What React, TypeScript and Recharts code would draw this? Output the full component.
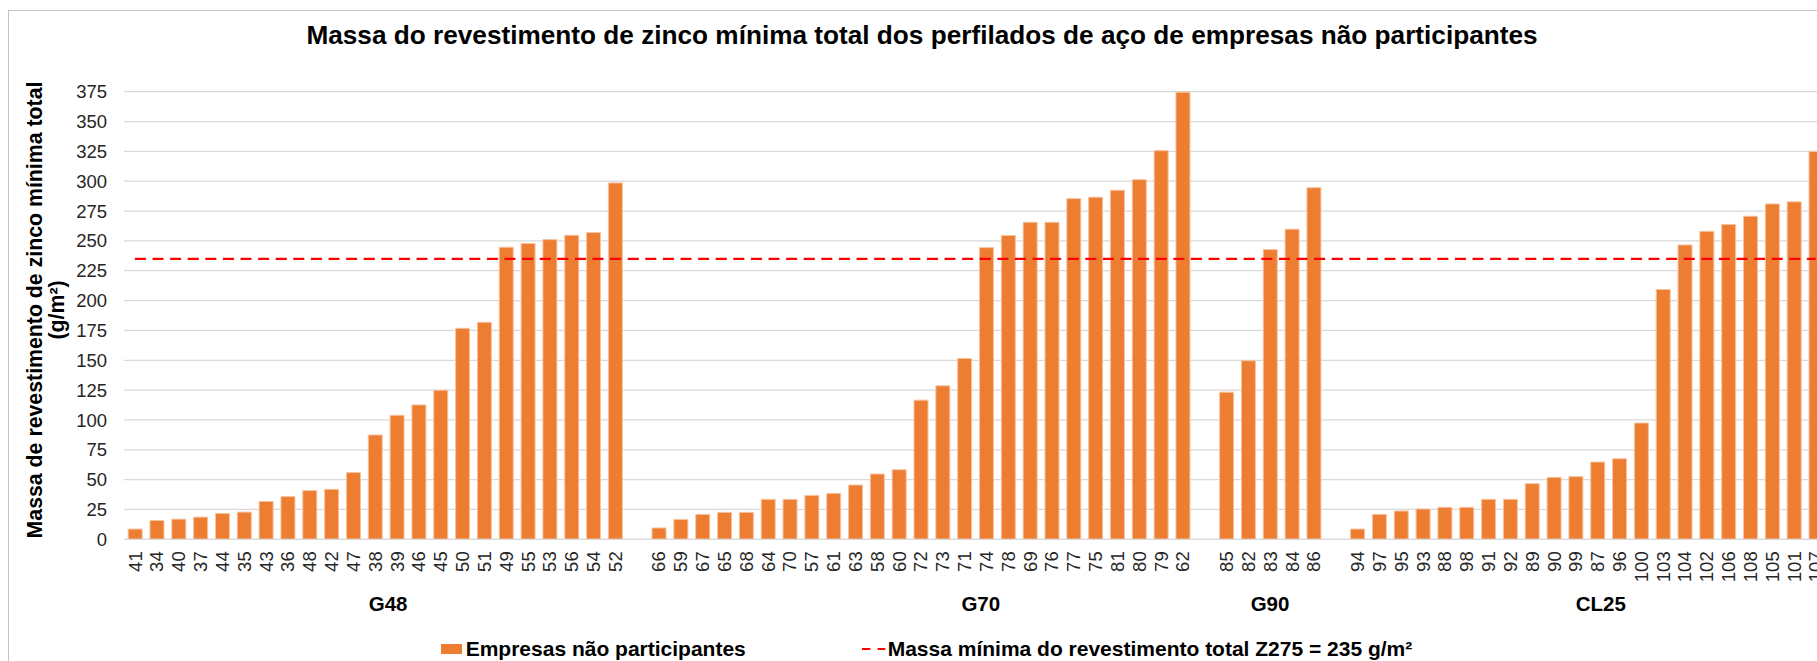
import React from 'react';
import {
  Bar,
  CartesianGrid,
  ComposedChart,
  Legend,
  Line,
  XAxis,
  YAxis,
} from 'recharts';

// company codes (x tick labels) and zinc coating mass per group, g/m²
const g48Labels = ['41', '34', '40', '37', '44', '35', '43', '36', '48', '42', '47', '38', '39', '46', '45', '50', '51', '49', '55', '53', '56', '54', '52'];
const g48Values = [8.6, 15.8, 16.9, 18.6, 21.7, 22.8, 31.7, 35.8, 40.8, 41.9, 55.9, 87.4, 103.9, 112.6, 124.9, 176.8, 181.8, 244.7, 247.8, 251.1, 254.7, 257, 298.6];

const g70Labels = ['66', '59', '67', '65', '68', '64', '70', '57', '61', '63', '58', '60', '72', '73', '71', '74', '78', '69', '76', '77', '75', '81', '80', '79', '62'];
const g70Values = [9.5, 16.7, 20.9, 22.6, 22.6, 33.5, 33.5, 36.8, 38.5, 45.5, 54.7, 58.3, 116.6, 128.6, 151.5, 244.4, 254.5, 265.6, 265.6, 285.4, 286.6, 292.4, 301.3, 325.6, 374.6];

const g90Labels = ['85', '82', '83', '84', '86'];
const g90Values = [123.3, 149.6, 242.7, 259.8, 294.6];

const cl25Labels = ['94', '97', '95', '93', '88', '98', '91', '92', '89', '90', '99', '87', '96', '100', '103', '104', '102', '106', '108', '105', '101', '107'];
const cl25Values = [8.6, 20.9, 23.7, 25.4, 26.8, 26.8, 33.5, 33.5, 46.6, 51.9, 52.5, 64.7, 67.5, 97.4, 209.3, 246.6, 258, 263.7, 270.7, 281, 282.7, 325];

const groupNames = ['G48', 'G70', 'G90', 'CL25'];
const limitValue = 235;
const yTicks = [0, 25, 50, 75, 100, 125, 150, 175, 200, 225, 250, 275, 300, 325, 350, 375];

const barName = 'Empresas não participantes';
const lineName = 'Massa mínima do revestimento total Z275 = 235 g/m²';

type Row = { key: string; label: string; value: number | null; limit: number };

const groups = [
  { labels: g48Labels, values: g48Values },
  { labels: g70Labels, values: g70Values },
  { labels: g90Labels, values: g90Values },
  { labels: cl25Labels, values: cl25Values },
];

// one empty category between groups, like the Excel source
const data: Row[] = [];
groups.forEach((g, gi) => {
  if (gi > 0) data.push({ key: `gap${gi}`, label: '', value: null, limit: limitValue });
  g.labels.forEach((l, i) => data.push({ key: l, label: l, value: g.values[i], limit: limitValue }));
});
const rowByKey: Record<string, Row> = {};
data.forEach((r) => (rowByKey[r.key] = r));

const FONT = '"Liberation Sans", Arial, sans-serif';
const CHART_W = 1840;
const CHART_H = 660;
const Y_AXIS_W = 116;
const MARGIN = { top: 81.7, right: 21.3, bottom: 10, left: 0 };
const LEGEND_H = 30;
const X_AXIS_H = CHART_H - MARGIN.bottom - LEGEND_H - 529.3;
const SLOT = (CHART_W - Y_AXIS_W - MARGIN.right) / data.length;

// where the group captions sit, in category slots from the left
const groupLabelAt: Record<string, number> = { G48: 11.6, G70: 38.75, G90: 52, CL25: 67.15 };

// the source picture is a crop of a wider chart: let the root span the whole window
const pageCss = 'body{margin:0}#root{width:1817px;padding:10px 0 0 8px;box-sizing:border-box}';

const CategoryTick = (props: any) => {
  const { x, y, payload } = props;
  const row = rowByKey[payload.value];
  const idx = data.indexOf(row);
  const caption = groupNames.find((g) => Math.floor(groupLabelAt[g]) === idx);
  return (
    <g>
      <text
        transform={`translate(${x},${y}) rotate(-90)`}
        textAnchor="end"
        dy="0.36em"
        fontSize={18.5}
        fill="#262626"
        fontFamily={FONT}
      >
        {row ? row.label : ''}
      </text>
      {caption && (
        <text
          x={x + (groupLabelAt[caption] - idx) * SLOT}
          y={y + 60}
          textAnchor="middle"
          fontSize={20.5}
          fontWeight="bold"
          fill="#000"
          fontFamily={FONT}
        >
          {caption}
        </text>
      )}
    </g>
  );
};

const YTitle = () => (
  <text
    transform="translate(33.7,300) rotate(-90)"
    textAnchor="middle"
    fontSize={21.3}
    fontWeight="bold"
    fill="#000"
    fontFamily={FONT}
  >
    <tspan x={0} y={0}>Massa de revestimento de zinco mínima total</tspan>
    <tspan x={0} dy={22}>(g/m²)</tspan>
  </text>
);

const LegendContent = () => (
  <div style={{ position: 'relative', height: LEGEND_H, fontFamily: FONT, fontSize: 21, fontWeight: 'bold', color: '#000' }}>
    <div style={{ position: 'absolute', left: 432.7, top: 0, height: LEGEND_H, display: 'flex', alignItems: 'center', whiteSpace: 'nowrap' }}>
      <span style={{ display: 'inline-block', width: 21, height: 10.7, background: '#ED7D31', marginRight: 4 }} />
      <span>{barName}</span>
    </div>
    <div style={{ position: 'absolute', left: 853.7, top: 0, height: LEGEND_H, display: 'flex', alignItems: 'center', whiteSpace: 'nowrap' }}>
      <svg width={24} height={10} style={{ marginRight: 2 }}>
        <line x1={0} y1={5} x2={23.3} y2={5} stroke="#FF0000" strokeWidth={2.2} strokeDasharray="8.3 7.3" />
      </svg>
      <span>{lineName}</span>
    </div>
  </div>
);

export default function App() {
  return (
    <>
      <style>{pageCss}</style>
      <div
        style={{
          position: 'relative',
          width: 1809,
          height: 651,
          overflow: 'hidden',
          background: '#fff',
          fontFamily: FONT,
        }}
      >
        <div
          style={{
            position: 'absolute',
            left: 0,
            top: 0,
            width: 1900,
            height: 1000,
            border: '1px solid #c4c4c4',
            pointerEvents: 'none',
          }}
        />
        <div
          style={{
            position: 'absolute',
            left: 914,
            top: 9.5,
            transform: 'translateX(-50%)',
            whiteSpace: 'nowrap',
            fontSize: 26.2,
            fontWeight: 'bold',
            color: '#000',
          }}
        >
          Massa do revestimento de zinco mínima total dos perfilados de aço de empresas não participantes
        </div>
        <ComposedChart
          width={CHART_W}
          height={CHART_H}
          data={data}
          margin={MARGIN}
          barCategoryGap="19%"
        >
          <CartesianGrid vertical={false} stroke="#d9d9d9" strokeWidth={1.25} />
          <XAxis
            dataKey="key"
            interval={0}
            height={X_AXIS_H}
            tickLine={false}
            tickSize={0}
            tickMargin={12}
            axisLine={{ stroke: '#d9d9d9', strokeWidth: 1.25 }}
            tick={(p: any) => <CategoryTick {...p} />}
          />
          <YAxis
            width={Y_AXIS_W}
            domain={[0, 375]}
            ticks={yTicks}
            interval={0}
            axisLine={false}
            tickLine={false}
            tickSize={6}
            tickMargin={11}
            tick={{ fontSize: 18.5, fill: '#262626', fontFamily: FONT }}
            label={<YTitle />}
          />
          <Legend verticalAlign="bottom" wrapperStyle={{ left: 0, top: 624, width: CHART_W }} content={() => <LegendContent />} />
          <Bar
            dataKey="value"
            name={barName}
            fill="#ED7D31"
            stroke="#f7c4a0"
            strokeWidth={1}
            isAnimationActive={false}
          />
          <Line
            dataKey="limit"
            name={lineName}
            type="linear"
            stroke="#FF0000"
            strokeWidth={2.2}
            strokeDasharray="11 6.6"
            dot={false}
            activeDot={false}
            isAnimationActive={false}
          />
        </ComposedChart>
      </div>
    </>
  );
}
